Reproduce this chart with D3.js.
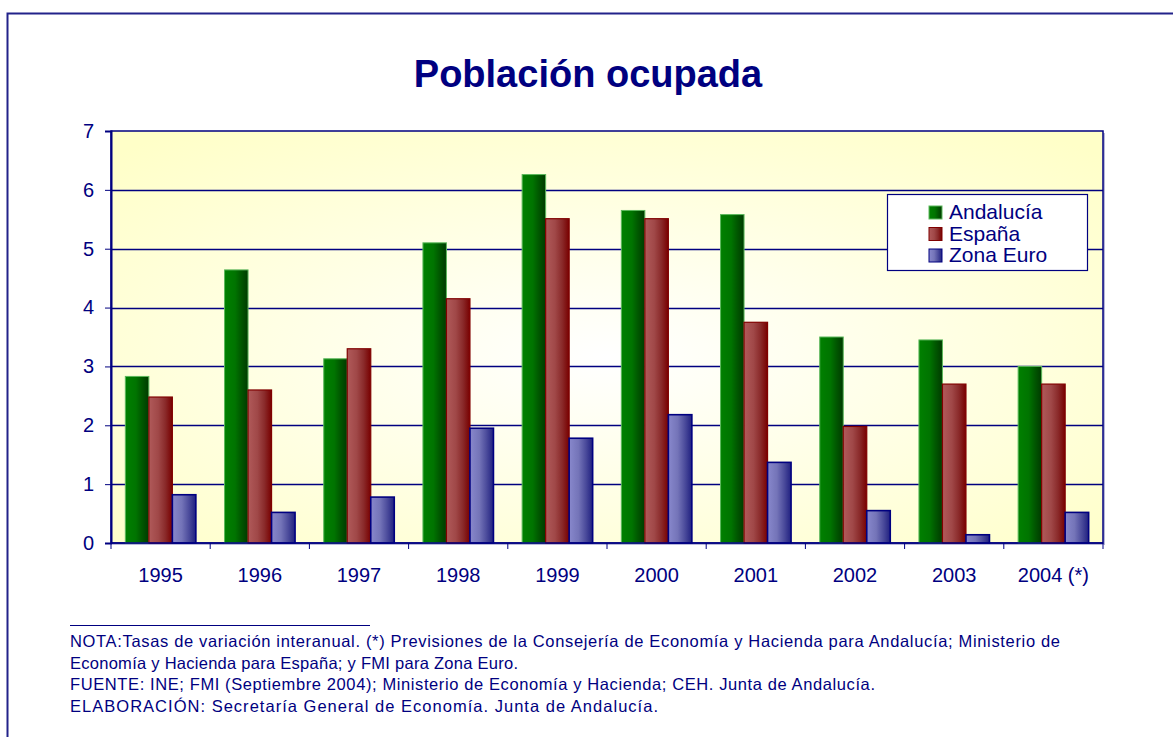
<!DOCTYPE html>
<html>
<head>
<meta charset="utf-8">
<script src="https://cdn.jsdelivr.net/npm/d3@7"></script>
<style>
  body { margin: 0; background: #fff; }
  svg { display: block; font-family: Arial, "Liberation Sans", sans-serif; }
</style>
</head>
<body>
<div id="container"></div>
<script>
// chart data
var years = ["1995", "1996", "1997", "1998", "1999", "2000", "2001", "2002", "2003", "2004 (*)"];
var seriesNames = ["Andalucía", "España", "Zona Euro"];
var andalucia = [2.83, 4.64, 3.13, 5.10, 6.26, 5.65, 5.58, 3.50, 3.45, 3.00];
var espana = [2.48, 2.60, 3.30, 4.15, 5.51, 5.51, 3.75, 1.98, 2.70, 2.70];
var zonaEuro = [0.82, 0.52, 0.78, 1.95, 1.78, 2.18, 1.37, 0.55, 0.14, 0.52];
var yTicks = [0, 1, 2, 3, 4, 5, 6, 7];
var footer = [
  "NOTA:Tasas de variación interanual.  (*) Previsiones de la Consejería de  Economía y Hacienda para Andalucía; Ministerio de",
  "Economía y Hacienda para España; y FMI para Zona Euro.",
  "FUENTE: INE; FMI (Septiembre 2004); Ministerio de Economía y Hacienda; CEH. Junta de Andalucía.",
  "ELABORACIÓN: Secretaría General de Economía. Junta de Andalucía."
];
var footerWidths = [990, 448, 805, 588];

var navy = "#000080";
var w = 1173, h = 737;
var svg = d3.select("#container").append("svg").attr("width", w).attr("height", h);

// outer frame (only left/top visible)
svg.append("path")
  .attr("d", "M7.5," + h + "V13.5H" + w)
  .attr("fill", "none").attr("stroke", "#22228a").attr("stroke-width", 2);

// gradients
var defs = svg.append("defs");
var bg = defs.append("radialGradient").attr("id", "bg").attr("cx", "50%").attr("cy", "55%").attr("r", "70%");
bg.append("stop").attr("offset", "0%").attr("stop-color", "#ffffff");
bg.append("stop").attr("offset", "100%").attr("stop-color", "#ffffc8");

function barGrad(id, stops) {
  var g = defs.append("linearGradient").attr("id", id).attr("x1", "0%").attr("x2", "100%");
  stops.forEach(function(s) { g.append("stop").attr("offset", s[0]).attr("stop-color", s[1]); });
}
barGrad("g0", [["0%", "#008000"], ["45%", "#007400"], ["70%", "#005800"], ["100%", "#003a00"]]);
barGrad("g1", [["0%", "#b05a5a"], ["40%", "#a04848"], ["70%", "#8a2a2a"], ["100%", "#780000"]]);
barGrad("g2", [["0%", "#8888cc"], ["40%", "#7474b8"], ["70%", "#4c4c9c"], ["100%", "#202080"]]);
var fills = ["url(#g0)", "url(#g1)", "url(#g2)"];
var strokes = ["#5cb85c", "#800000", navy];
var strokeW = [1, 1.2, 1.6];

// title
svg.append("text")
  .attr("x", 588).attr("y", 87)
  .attr("text-anchor", "middle")
  .attr("font-size", 38).attr("font-weight", "bold")
  .attr("fill", navy)
  .text("Población ocupada");

// scales
var pLeft = 111, pRight = 1103, pTop = 131, pBottom = 543;
var x0 = d3.scaleBand().domain(years).range([pLeft, pRight]).padding(0);
var x1 = d3.scaleBand().domain(seriesNames).range([0, x0.bandwidth()]).paddingInner(0).paddingOuter(0.61);
var y = d3.scaleLinear().domain([0, 7]).range([pBottom, pTop]);

// plot area with shadow
svg.append("rect")
  .attr("x", pLeft + 2).attr("y", pTop + 2)
  .attr("width", pRight - pLeft).attr("height", pBottom - pTop)
  .attr("fill", "#b8b8d8");
svg.append("rect")
  .attr("x", pLeft).attr("y", pTop)
  .attr("width", pRight - pLeft).attr("height", pBottom - pTop)
  .attr("fill", "url(#bg)")
  .attr("stroke", navy).attr("stroke-width", 1.5);

// gridlines
svg.append("g").selectAll("line")
  .data(yTicks.slice(1, -1))
  .enter().append("line")
  .attr("x1", pLeft).attr("x2", pRight)
  .attr("y1", function(d) { return Math.round(y(d)) + 0.5; })
  .attr("y2", function(d) { return Math.round(y(d)) + 0.5; })
  .attr("stroke", navy).attr("stroke-width", 1.3);

// bars
var series = [andalucia, espana, zonaEuro];
var rows = [];
years.forEach(function(yr, i) {
  seriesNames.forEach(function(s, j) {
    rows.push({ year: yr, s: s, j: j, v: series[j][i] });
  });
});
svg.append("g").selectAll("rect")
  .data(rows)
  .enter().append("rect")
  .attr("x", function(d) { return x0(d.year) + x1(d.s); })
  .attr("y", function(d) { return y(d.v); })
  .attr("width", x1.bandwidth())
  .attr("height", function(d) { return pBottom - y(d.v); })
  .attr("fill", function(d) { return fills[d.j]; })
  .attr("stroke", function(d) { return strokes[d.j]; })
  .attr("stroke-width", function(d) { return strokeW[d.j]; });

// x axis
var xAxis = svg.append("g")
  .attr("transform", "translate(0," + pBottom + ")");
xAxis.append("line").attr("x1", pLeft).attr("x2", pRight).attr("stroke", navy).attr("stroke-width", 1.5);
var boundaries = years.map(function(d) { return x0(d); }).concat([pRight]);
xAxis.selectAll("line.tk")
  .data(boundaries)
  .enter().append("line").attr("class", "tk")
  .attr("x1", function(d) { return d; }).attr("x2", function(d) { return d; })
  .attr("y1", 0).attr("y2", 6)
  .attr("stroke", navy).attr("stroke-width", 1);
xAxis.selectAll("text")
  .data(years)
  .enter().append("text")
  .attr("x", function(d) { return x0(d) + x0.bandwidth() / 2; })
  .attr("y", 39)
  .attr("text-anchor", "middle")
  .attr("font-size", 20)
  .attr("fill", navy)
  .text(function(d) { return d; });

// y axis
var yAxis = svg.append("g")
  .attr("transform", "translate(" + pLeft + ",0)")
  .call(d3.axisLeft(y).tickValues(yTicks).tickSize(6).tickPadding(11).tickFormat(d3.format("d")));
yAxis.select(".domain").attr("stroke", navy).attr("stroke-width", 2);
yAxis.selectAll(".tick line").attr("stroke", navy);
yAxis.selectAll(".tick text")
  .attr("font-size", 20).attr("font-family", "Arial, 'Liberation Sans', sans-serif")
  .attr("fill", navy);

// legend
var lg = svg.append("g").attr("transform", "translate(887,194)");
lg.append("rect").attr("x", 0.5).attr("y", 0.5).attr("width", 200).attr("height", 76)
  .attr("fill", "#fff").attr("stroke", navy).attr("stroke-width", 1.2);
seriesNames.forEach(function(s, j) {
  var row = lg.append("g").attr("transform", "translate(0," + (17 + j * 21.5) + ")");
  row.append("rect").attr("x", 42).attr("y", -5).attr("width", 13).attr("height", 13)
    .attr("fill", fills[j]).attr("stroke", strokes[j]).attr("stroke-width", 1);
  row.append("text").attr("x", 62).attr("y", 8)
    .attr("font-size", 21).attr("fill", navy).text(s);
});

// footer
svg.append("line")
  .attr("x1", 70).attr("x2", 370).attr("y1", 625.5).attr("y2", 625.5)
  .attr("stroke", navy).attr("stroke-width", 1);
svg.append("g").selectAll("text")
  .data(footer)
  .enter().append("text")
  .attr("x", 70)
  .attr("y", function(d, i) { return 647 + i * 21.7; })
  .attr("font-size", 16.5)
  .attr("fill", navy)
  .attr("textLength", function(d, i) { return footerWidths[i]; })
  .attr("lengthAdjust", "spacing")
  .text(function(d) { return d; });
</script>
</body>
</html>
